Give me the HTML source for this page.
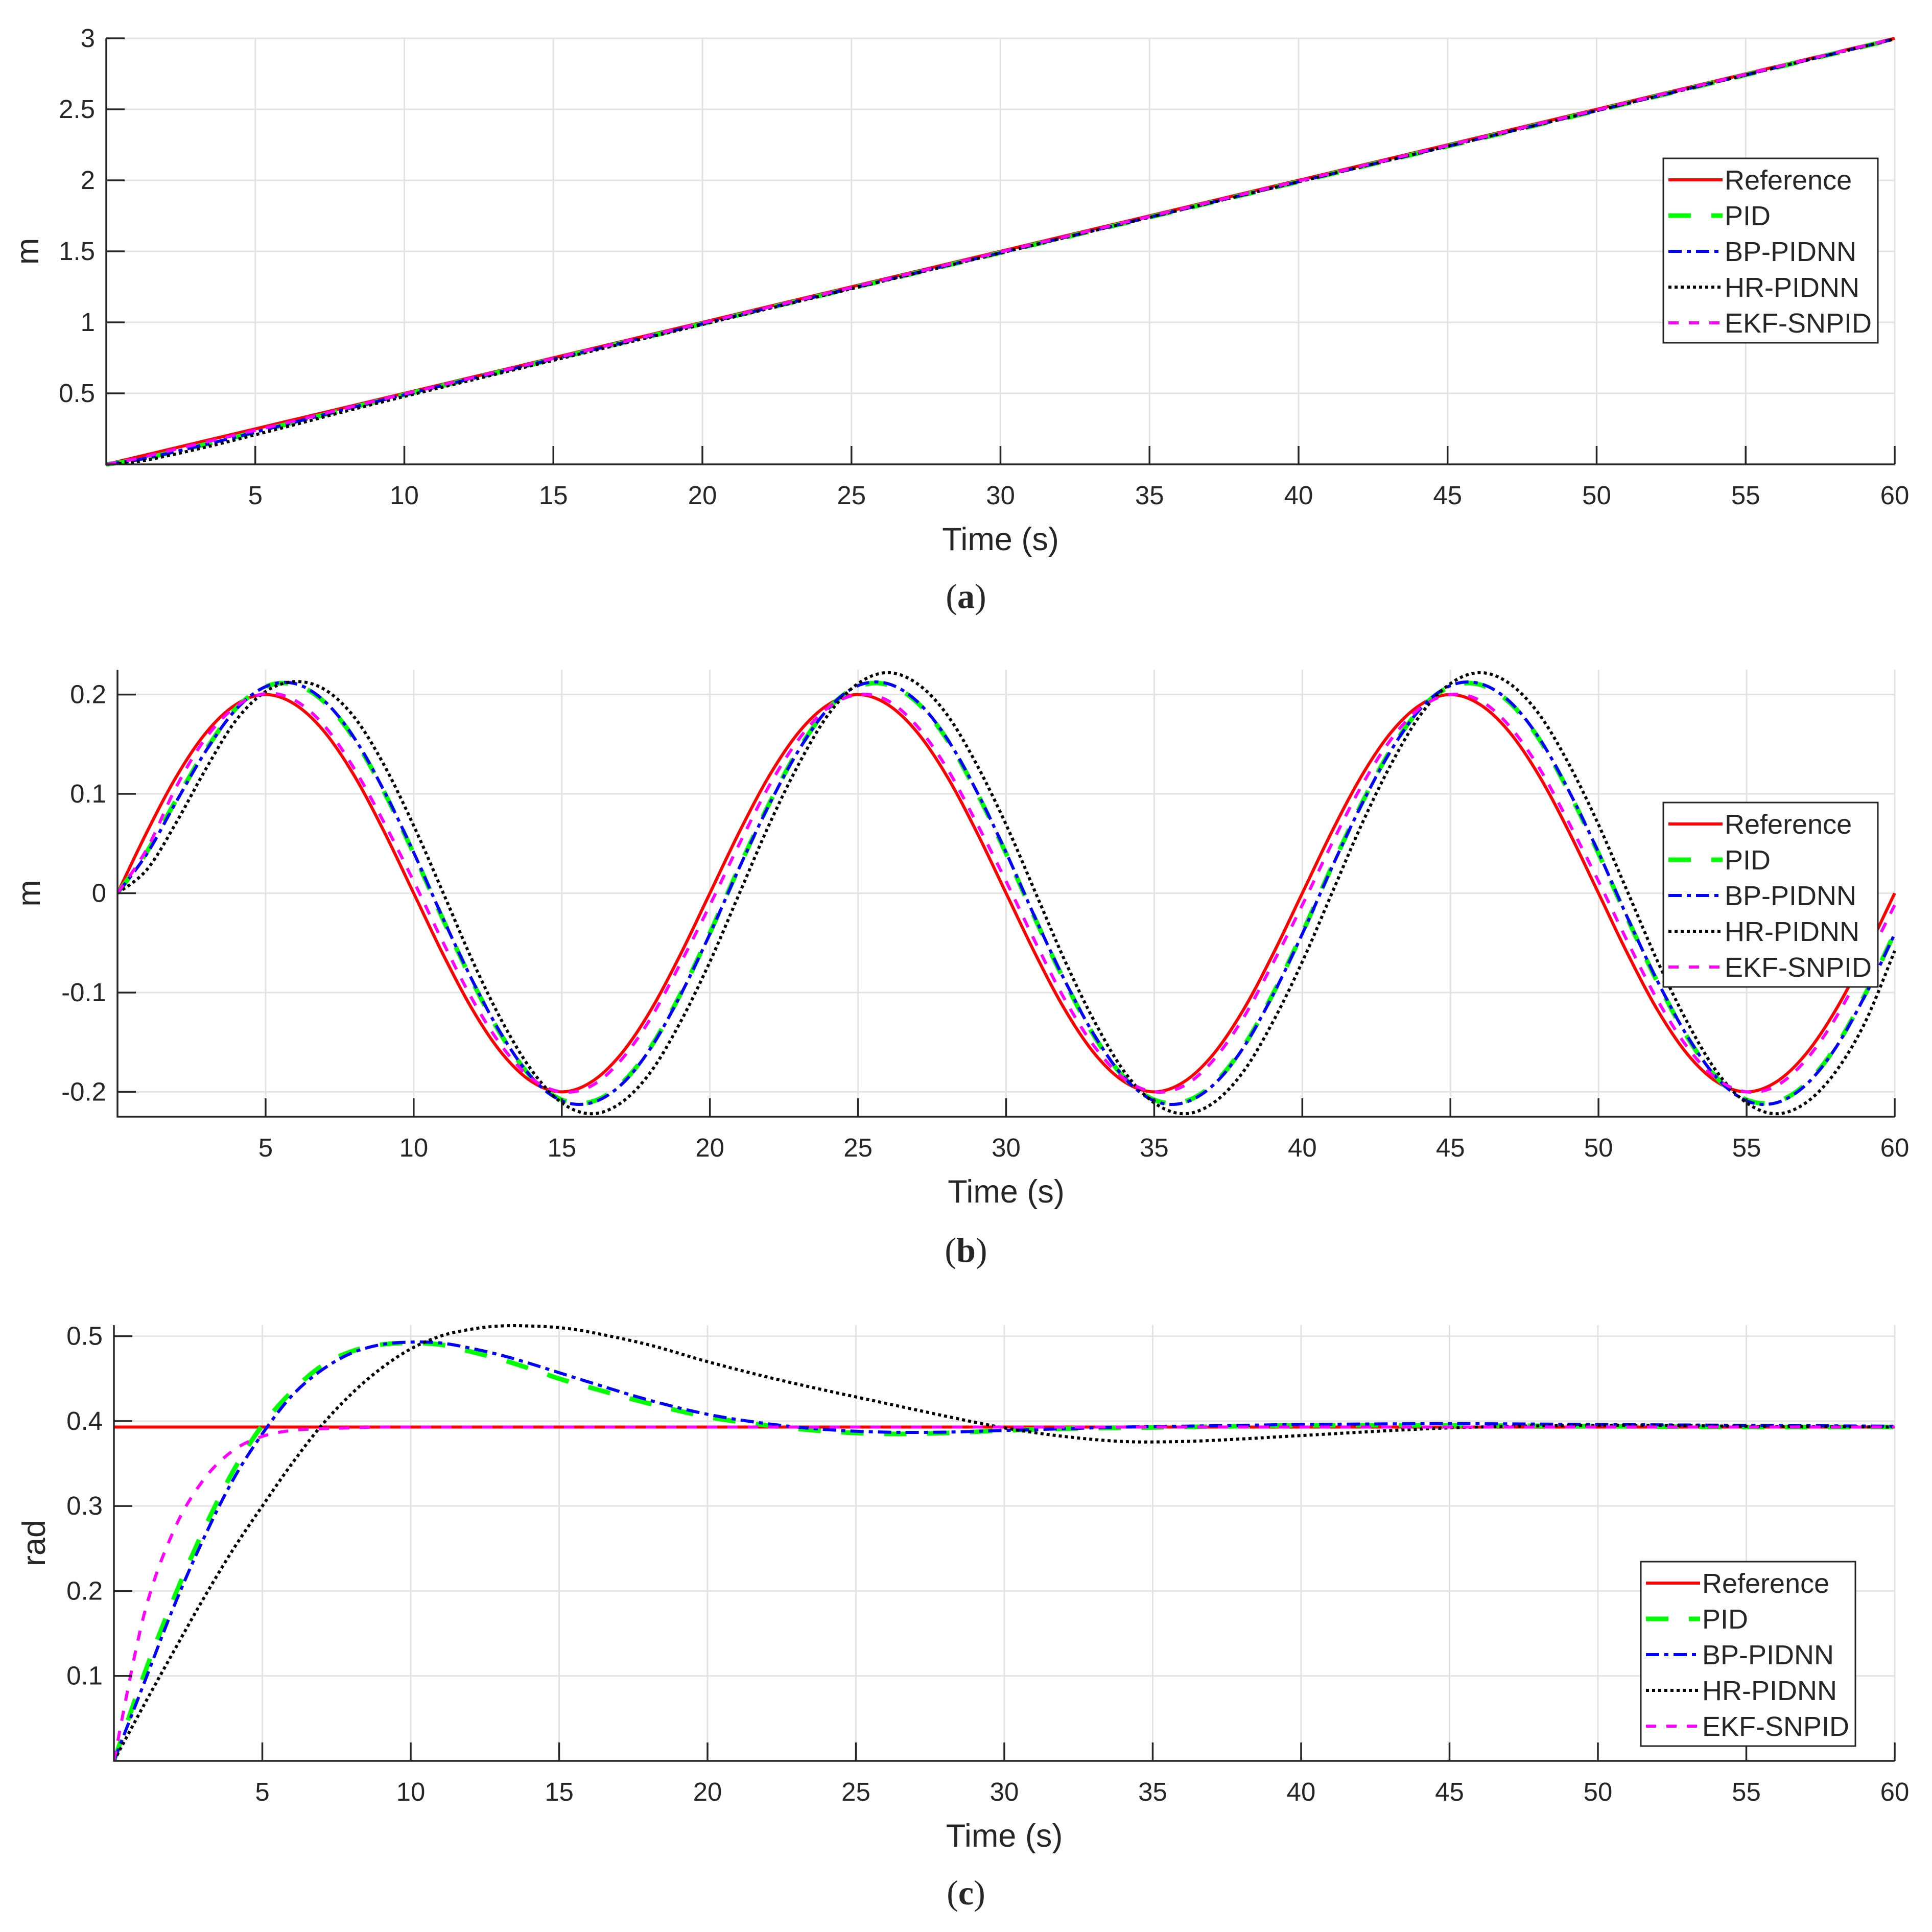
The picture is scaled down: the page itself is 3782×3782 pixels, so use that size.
<!DOCTYPE html>
<html><head><meta charset="utf-8"><style>
html,body{margin:0;padding:0;background:#fff}
svg{display:block}
text{font-family:"Liberation Sans",Arial,sans-serif;fill:#262626}
</style></head><body>
<svg id="fig" width="3782" height="3782" viewBox="0 0 3782 3782" xmlns="http://www.w3.org/2000/svg"></svg>
<script>
// ---------- Panel (a) data ----------
const aTime = [0,1,2,3,4,6,10,20,30,40,50,60];
const aRef  = [0,0.05,0.1,0.15,0.2,0.3,0.5,1,1.5,2,2.5,3];
const aPID  = [0,0.03,0.075,0.125,0.175,0.28,0.49,0.99,1.49,1.99,2.49,2.995];
const aBP   = [0,0.03,0.074,0.124,0.174,0.28,0.49,0.99,1.49,1.99,2.49,2.995];
const aHR   = [0,0.018,0.058,0.105,0.155,0.262,0.478,0.985,1.488,1.99,2.49,2.995];
const aEKF  = [0,0.04,0.09,0.14,0.19,0.29,0.495,0.995,1.495,1.995,2.495,2.998];
const aYTicks = [0.5,1,1.5,2,2.5,3];
const aYLabels = ["0.5","1","1.5","2","2.5","3"];

// ---------- Panel (b) data (1 s steps) ----------
const bTime = [0,1,2,3,4,5,6,7,8,9,10,11,12,13,14,15,16,17,18,19,20,21,22,23,24,25,26,27,28,29,30,31,32,33,34,35,36,37,38,39,40,41,42,43,44,45,46,47,48,49,50,51,52,53,54,55,56,57,58,59,60];
const bRef = [0,0.062,0.118,0.162,0.190,0.200,0.190,0.162,0.118,0.062,0,-0.062,-0.118,-0.162,-0.190,-0.200,-0.190,-0.162,-0.118,-0.062,0,0.062,0.118,0.162,0.190,0.200,0.190,0.162,0.118,0.062,0,-0.062,-0.118,-0.162,-0.190,-0.200,-0.190,-0.162,-0.118,-0.062,0,0.062,0.118,0.162,0.190,0.200,0.190,0.162,0.118,0.062,0,-0.062,-0.118,-0.162,-0.190,-0.200,-0.190,-0.162,-0.118,-0.062,0];
const bPID = [0,0.042,0.095,0.145,0.186,0.208,0.210,0.192,0.155,0.102,0.040,-0.027,-0.090,-0.145,-0.186,-0.208,-0.210,-0.192,-0.155,-0.102,-0.040,0.027,0.090,0.145,0.186,0.208,0.210,0.192,0.155,0.102,0.040,-0.027,-0.090,-0.145,-0.186,-0.208,-0.210,-0.192,-0.155,-0.102,-0.040,0.027,0.090,0.145,0.186,0.208,0.210,0.192,0.155,0.102,0.040,-0.027,-0.090,-0.145,-0.186,-0.208,-0.210,-0.192,-0.155,-0.102,-0.040];
const bBP  = [0,0.040,0.093,0.144,0.185,0.208,0.211,0.193,0.156,0.103,0.041,-0.026,-0.089,-0.144,-0.186,-0.209,-0.211,-0.193,-0.156,-0.103,-0.041,0.026,0.089,0.144,0.186,0.209,0.211,0.193,0.156,0.103,0.041,-0.026,-0.089,-0.144,-0.186,-0.209,-0.211,-0.193,-0.156,-0.103,-0.041,0.026,0.089,0.144,0.186,0.209,0.211,0.193,0.156,0.103,0.041,-0.026,-0.089,-0.144,-0.186,-0.209,-0.211,-0.193,-0.156,-0.103,-0.041];
const bHR  = [0,0.024,0.072,0.126,0.174,0.203,0.213,0.205,0.177,0.129,0.068,0,-0.069,-0.130,-0.179,-0.211,-0.222,-0.211,-0.180,-0.130,-0.069,0,0.069,0.130,0.180,0.211,0.222,0.211,0.180,0.130,0.069,0,-0.069,-0.130,-0.180,-0.211,-0.222,-0.211,-0.180,-0.130,-0.069,0,0.069,0.130,0.180,0.211,0.222,0.211,0.180,0.130,0.069,0,-0.069,-0.130,-0.180,-0.211,-0.222,-0.211,-0.180,-0.130,-0.058];
const bEKF = [0,0.045,0.108,0.157,0.188,0.201,0.194,0.168,0.125,0.071,0.012,-0.050,-0.108,-0.155,-0.187,-0.200,-0.194,-0.168,-0.126,-0.071,-0.012,0.050,0.108,0.155,0.187,0.200,0.194,0.168,0.126,0.071,0.012,-0.050,-0.108,-0.155,-0.187,-0.200,-0.194,-0.168,-0.126,-0.071,-0.012,0.050,0.108,0.155,0.187,0.200,0.194,0.168,0.126,0.071,0.012,-0.050,-0.108,-0.155,-0.187,-0.200,-0.194,-0.168,-0.126,-0.071,-0.012];
const bYTicks = [-0.2,-0.1,0,0.1,0.2];
const bYLabels = ["-0.2","-0.1","0","0.1","0.2"];

// ---------- Panel (c) data ----------
const cTime = [0,1,2,3,4,5,6,7,8,9,10,11,12,13,14,15,16,18,20,22,24,26,28,30,32,34,36,38,40,45,50,55,60];
const cRef = [0.393,0.393,0.393,0.393,0.393,0.393,0.393,0.393,0.393,0.393,0.393,0.393,0.393,0.393,0.393,0.393,0.393,0.393,0.393,0.393,0.393,0.393,0.393,0.393,0.393,0.393,0.393,0.393,0.393,0.393,0.393,0.393,0.393];
const cPID = [0,0.10,0.19,0.27,0.34,0.395,0.435,0.465,0.482,0.490,0.492,0.490,0.482,0.473,0.462,0.450,0.440,0.421,0.405,0.395,0.388,0.385,0.386,0.389,0.391,0.392,0.393,0.394,0.395,0.395,0.394,0.393,0.393];
const cBP  = [0,0.09,0.18,0.26,0.33,0.385,0.43,0.46,0.48,0.49,0.493,0.492,0.486,0.478,0.468,0.457,0.446,0.425,0.408,0.397,0.390,0.387,0.387,0.389,0.391,0.393,0.394,0.395,0.396,0.397,0.396,0.395,0.394];
const cHR  = [0,0.065,0.128,0.19,0.248,0.30,0.35,0.395,0.432,0.462,0.485,0.500,0.508,0.512,0.512,0.510,0.505,0.490,0.470,0.452,0.436,0.421,0.406,0.392,0.382,0.376,0.376,0.379,0.383,0.392,0.395,0.394,0.393];
const cEKF = [0,0.17,0.27,0.33,0.365,0.382,0.389,0.391,0.392,0.393,0.393,0.393,0.393,0.393,0.393,0.393,0.393,0.393,0.393,0.393,0.393,0.393,0.393,0.393,0.393,0.393,0.393,0.393,0.393,0.393,0.393,0.393,0.393];
const cYTicks = [0.1,0.2,0.3,0.4,0.5];
const cYLabels = ["0.1","0.2","0.3","0.4","0.5"];

const xTicks = [5,10,15,20,25,30,35,40,45,50,55,60];
const xLabels = ["5","10","15","20","25","30","35","40","45","50","55","60"];
const legendNames = ["Reference","PID","BP-PIDNN","HR-PIDNN","EKF-SNPID"];

const NS = "http://www.w3.org/2000/svg";
const svg = document.getElementById('fig');
function mk(tag, attrs, parent){
  const e = document.createElementNS(NS, tag);
  for (const k in attrs) e.setAttribute(k, attrs[k]);
  (parent||svg).appendChild(e);
  return e;
}
const styles = [
  {stroke:"#ff0000", w:6, dash:""},
  {stroke:"#00ff00", w:9, dash:"44 40"},
  {stroke:"#0000ff", w:6, dash:"26 10 8 10"},
  {stroke:"#000000", w:6, dash:"6 6"},
  {stroke:"#ff00ff", w:6, dash:"20 20"}
];
const seriesKeys = ["reference","pid","bp-pidnn","hr-pidnn","ekf-snpid"];

function pathFrom(xs, ys, X, Y){
  const P = xs.map((t,i)=>[X(t),Y(ys[i])]);
  let d = "M"+P[0][0].toFixed(1)+","+P[0][1].toFixed(1);
  for (let i=0;i<P.length-1;i++){
    const p0=P[Math.max(0,i-1)], p1=P[i], p2=P[i+1], p3=P[Math.min(P.length-1,i+2)];
    const c1=[p1[0]+(p2[0]-p0[0])/6, p1[1]+(p2[1]-p0[1])/6];
    const c2=[p2[0]-(p3[0]-p1[0])/6, p2[1]-(p3[1]-p1[1])/6];
    d += " C"+c1[0].toFixed(1)+","+c1[1].toFixed(1)+" "+c2[0].toFixed(1)+","+c2[1].toFixed(1)+" "+p2[0].toFixed(1)+","+p2[1].toFixed(1);
  }
  return d;
}

function panel(c){
  const g = mk('g',{});
  
  
  const X = t => c.L + (t-0)/(60-0)*(c.R-c.L);
  const Y = v => c.B - (v-c.ymin)/(c.ymax-c.ymin)*(c.B-c.T);
  xTicks.forEach(t=>{
    const l = mk('line',{x1:X(t),x2:X(t),y1:c.T,y2:c.B,stroke:"#e3e3e3","stroke-width":3},g);
    
    
  });
  c.yt.forEach(v=>{
    const l = mk('line',{x1:c.L,x2:c.R,y1:Y(v),y2:Y(v),stroke:"#e3e3e3","stroke-width":3},g);
    
    
  });
  const clipId = 'clip'+c.id;
  const cp = mk('clipPath',{id:clipId},g);
  mk('rect',{x:c.L,y:c.T-10,width:c.R-c.L+6,height:c.B-c.T+16},cp);
  c.series.forEach((ys,i)=>{
    const s = styles[i];
    const p = mk('path',{d:pathFrom(c.x,ys,X,Y),fill:"none",stroke:s.stroke,"stroke-width":s.w,"stroke-dasharray":s.dash,"clip-path":"url(#"+clipId+")"},g);
    
    
  });
  const ax = mk('path',{d:`M${c.L},${c.T} L${c.L},${c.B} L${c.R},${c.B}`,fill:"none",stroke:"#262626","stroke-width":3.5},g);
  
  
  xTicks.forEach((t,i)=>{
    mk('line',{x1:X(t),x2:X(t),y1:c.B,y2:c.B-36,stroke:"#262626","stroke-width":3.5},g);
    const tx = mk('text',{x:X(t),y:c.B+78,"text-anchor":"middle","font-size":51},g);
    tx.textContent = xLabels[i];
    
    
  });
  c.yt.forEach((v,i)=>{
    mk('line',{x1:c.L,x2:c.L+36,y1:Y(v),y2:Y(v),stroke:"#262626","stroke-width":3.5},g);
    const tx = mk('text',{x:c.L-22,y:Y(v)+17,"text-anchor":"end","font-size":51},g);
    tx.textContent = c.yl[i];
    
    
  });
  const xt = mk('text',{x:(c.L+c.R)/2,y:c.B+168,"text-anchor":"middle","font-size":63},g);
  xt.textContent = "Time (s)";
  
  
  const yt = mk('text',{x:c.ylx,y:(c.T+c.B)/2,"text-anchor":"middle","font-size":63,transform:`rotate(-90 ${c.ylx} ${(c.T+c.B)/2})`},g);
  yt.textContent = c.ylabel;
  
  
  const cap = mk('text',{x:1891,y:c.capY,"text-anchor":"middle","font-size":68,style:'font-family:"Liberation Serif",serif',fill:"#000"},g);
  cap.innerHTML = '(<tspan font-weight="bold">'+c.id+'</tspan>)';
  
  
  const lg = mk('g',{},g);
  
  
  mk('rect',{x:c.lx,y:c.ly,width:420,height:361,fill:"#fff",stroke:"#262626","stroke-width":3},lg);
  legendNames.forEach((n,i)=>{
    const yy = c.ly+42+i*70;
    const s = styles[i];
    mk('line',{x1:c.lx+10,x2:c.lx+116,y1:yy,y2:yy,stroke:s.stroke,"stroke-width":s.w,"stroke-dasharray":s.dash},lg);
    const t = mk('text',{x:c.lx+120,y:yy+19,"font-size":54,fill:"#000"},lg);
    t.textContent = n;
    
    
  });
}

panel({id:"a",L:208,R:3709,T:75,B:909,ymin:0,ymax:3,x:aTime,series:[aRef,aPID,aBP,aHR,aEKF],yt:aYTicks,yl:aYLabels,ylabel:"m",ylx:75,capY:1190,lx:3256,ly:310});
panel({id:"b",L:230,R:3709,T:1311,B:2186,ymin:-0.225,ymax:0.225,x:bTime,series:[bRef,bPID,bBP,bHR,bEKF],yt:bYTicks,yl:bYLabels,ylabel:"m",ylx:78,capY:2470,lx:3256,ly:1571});
panel({id:"c",L:223,R:3709,T:2594,B:3447,ymin:0,ymax:0.513,x:cTime,series:[cRef,cPID,cBP,cHR,cEKF],yt:cYTicks,yl:cYLabels,ylabel:"rad",ylx:88,capY:3728,lx:3212,ly:3057});
</script>
</body></html>
